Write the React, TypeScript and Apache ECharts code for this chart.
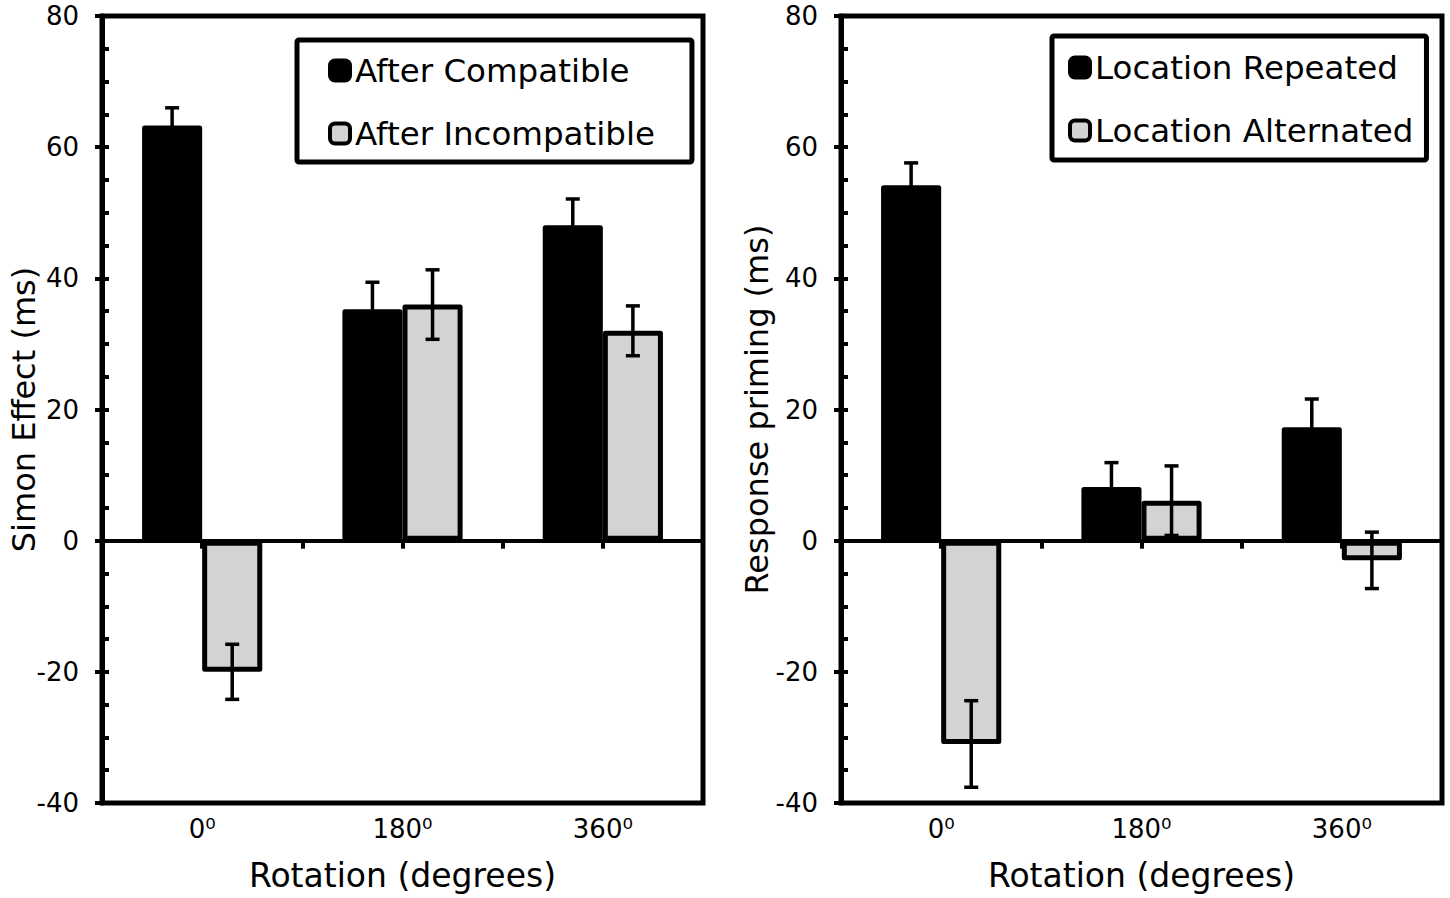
import React, { useEffect, useRef } from "react";
import * as echarts from "echarts";

// ---- data ----
const rotations = ["0\u2070", "180\u2070", "360\u2070"];
const halfSlots = rotations.flatMap((r) => [r + "-a", r + "-b"]);

const afterCompatible = [63.3, 35.3, 48.1];
const afterCompatibleErr = [2.7, 4.1, 4.0];
const afterIncompatible = [-20, 36, 32];
const afterIncompatibleErr = [4.2, 5.3, 3.8];

const locationRepeated = [54.2, 8.2, 17.3];
const locationRepeatedErr = [3.4, 3.7, 4.3];
const locationAlternated = [-31, 6.1, -3];
const locationAlternatedErr = [6.6, 5.3, 4.3];

const yMin = -40;
const yMax = 80;
const yMajor = 20;
const yMinor = 5;

const FONT = "DejaVu Sans";
const GREY = "#d3d3d3";
const CAT_GAP = 0.4;

function errorSeries(means: number[], errs: number[], side: number, gi: number) {
  return {
    type: "custom",
    xAxisIndex: gi * 2,
    yAxisIndex: gi * 2,
    z: 10,
    silent: true,
    data: means.map((m, i) => [i, m, errs[i]]),
    encode: { x: 0, y: 1 },
    renderItem: (_params: any, api: any) => {
      const i = api.value(0);
      const m = api.value(1);
      const e = api.value(2);
      const band = api.size([1, 0])[0];
      const barW = (band * (1 - CAT_GAP)) / 2;
      const cx = api.coord([i, m])[0] + (side * barW) / 2;
      const yTop = api.coord([i, m + e])[1];
      const yBot = api.coord([i, m - e])[1];
      const half = 7;
      const style = { stroke: "#000", lineWidth: 3.5 };
      return {
        type: "group",
        children: [
          { type: "line", shape: { x1: cx, y1: yTop, x2: cx, y2: yBot }, style },
          { type: "line", shape: { x1: cx - half, y1: yTop, x2: cx + half, y2: yTop }, style },
          { type: "line", shape: { x1: cx - half, y1: yBot, x2: cx + half, y2: yBot }, style },
        ],
      };
    },
  };
}

function barSeries(name: string, values: number[], grey: boolean, gi: number) {
  return {
    type: "bar",
    name,
    xAxisIndex: gi * 2,
    yAxisIndex: gi * 2,
    data: values,
    barGap: "0%",
    barCategoryGap: CAT_GAP * 100 + "%",
    itemStyle: {
      color: grey ? GREY : "#000",
      borderColor: "#000",
      borderWidth: 5,
      borderJoin: "round",
    },
    z: 2,
  };
}

function gridAxes(gi: number, yName: string, yNameGap: number, labelMargin: number) {
  const xAxes = [
    {
      type: "category",
      gridIndex: gi,
      data: rotations,
      position: "bottom",
      axisLine: { show: false, onZero: false },
      axisTick: { show: false },
      axisLabel: { fontSize: 26, fontFamily: FONT, color: "#000", margin: 13 },
      name: "Rotation (degrees)",
      nameLocation: "middle",
      nameGap: 56,
      nameMoveOverlap: false,
      nameTextStyle: { fontSize: 33, fontFamily: FONT, color: "#000" },
      splitLine: { show: false },
    },
    {
      type: "category",
      gridIndex: gi,
      data: halfSlots,
      position: "bottom",
      boundaryGap: true,
      axisLine: { show: true, onZero: true, onZeroAxisIndex: gi * 2, lineStyle: { color: "#000", width: 4 } },
      axisTick: { show: true, inside: false, length: 8, lineStyle: { color: "#000", width: 4 } },
      axisLabel: { show: false },
      splitLine: { show: false },
    },
  ];
  const yAxes = [
    {
      type: "value",
      gridIndex: gi,
      min: yMin,
      max: yMax,
      interval: yMajor,
      position: "left",
      name: yName,
      nameLocation: "middle",
      nameGap: yNameGap,
      nameMoveOverlap: false,
      nameTextStyle: { fontSize: 32, fontFamily: FONT, color: "#000" },
      axisLine: { show: true, onZero: false, lineStyle: { color: "#000", width: 5 } },
      axisTick: { show: true, inside: false, length: 7, lineStyle: { color: "#000", width: 4 } },
      axisLabel: { fontSize: 26, fontFamily: FONT, color: "#000", margin: labelMargin },
      splitLine: { show: false },
    },
    {
      type: "value",
      gridIndex: gi,
      min: yMin,
      max: yMax,
      interval: yMinor,
      position: "left",
      axisLine: { show: false, onZero: false },
      axisTick: { show: true, inside: true, length: 7, lineStyle: { color: "#000", width: 4 } },
      axisLabel: { show: false },
      splitLine: { show: false },
    },
  ];
  return { xAxes, yAxes };
}

export default function App() {
  const ref = useRef<HTMLDivElement>(null);
  useEffect(() => {
    if (!ref.current) return;
    const chart = echarts.init(ref.current, undefined, { renderer: "svg" });
    const g0 = gridAxes(0, "Simon Effect (ms)", 62, 23);
    const g1 = gridAxes(1, "Response priming (ms)", 68, 23);
    const legendCommon = {
      orient: "vertical",
      icon: "roundRect",
      itemWidth: 20,
      itemHeight: 20,
      itemGap: 30,
      borderColor: "#000",
      borderWidth: 5,
      borderRadius: 2,
      selectedMode: false,
      textStyle: { fontSize: 32.5, fontFamily: FONT, color: "#000" },
    };
    const blackIcon = { color: "#000", borderColor: "#000", borderWidth: 4 };
    const greyIcon = { color: GREY, borderColor: "#000", borderWidth: 4 };
    chart.setOption({
      animation: false,
      backgroundColor: "#fff",
      grid: [
        { left: 102, top: 16, width: 601, height: 787, show: true, borderColor: "#000", borderWidth: 5, backgroundColor: "transparent" },
        { left: 841, top: 16, width: 601, height: 787, show: true, borderColor: "#000", borderWidth: 5, backgroundColor: "transparent" },
      ],
      legend: [
        {
          ...legendCommon,
          left: 297,
          top: 40,
          padding: [14, 37, 12, 31],
          data: [
            { name: "After Compatible", itemStyle: blackIcon },
            { name: "After Incompatible", itemStyle: greyIcon },
          ],
        },
        {
          ...legendCommon,
          left: 1052,
          top: 36,
          padding: [15, 13, 13, 16],
          data: [
            { name: "Location Repeated", itemStyle: blackIcon },
            { name: "Location Alternated", itemStyle: greyIcon },
          ],
        },
      ],
      xAxis: [...g0.xAxes, ...g1.xAxes],
      yAxis: [...g0.yAxes, ...g1.yAxes],
      series: [
        barSeries("After Compatible", afterCompatible, false, 0),
        barSeries("After Incompatible", afterIncompatible, true, 0),
        errorSeries(afterCompatible, afterCompatibleErr, -1, 0),
        errorSeries(afterIncompatible, afterIncompatibleErr, 1, 0),
        barSeries("Location Repeated", locationRepeated, false, 1),
        barSeries("Location Alternated", locationAlternated, true, 1),
        errorSeries(locationRepeated, locationRepeatedErr, -1, 1),
        errorSeries(locationAlternated, locationAlternatedErr, 1, 1),
      ],
    });
    return () => chart.dispose();
  }, []);
  return (
    <div
      ref={ref}
      style={{ position: "absolute", left: 0, top: 0, width: 1450, height: 898 }}
    />
  );
}
